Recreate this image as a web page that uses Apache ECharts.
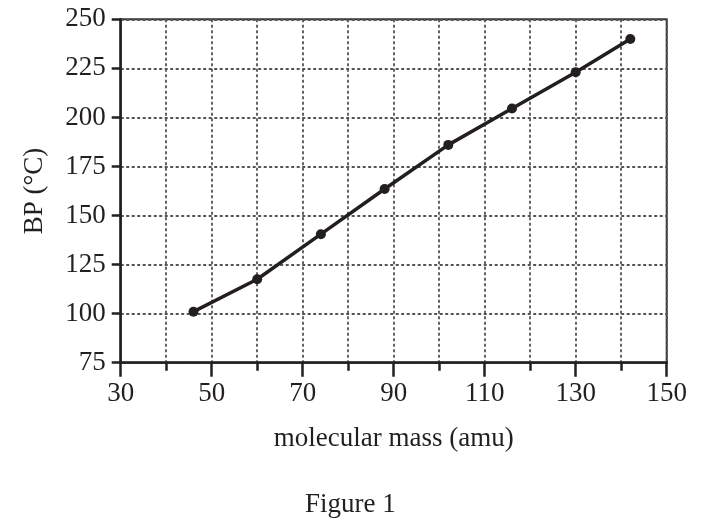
<!DOCTYPE html>
<html>
<head>
<meta charset="utf-8">
<script src="https://cdn.jsdelivr.net/npm/echarts@6/dist/echarts.min.js"></script>
<style>
html,body{margin:0;padding:0;background:#fff;}
#c{width:701px;height:528px;}
</style>
</head>
<body>
<div id="c"></div>
<script>
var molecularMass = [46, 60, 74, 88, 102, 116, 130, 142];
var boilingPoint = [101, 117.5, 140.5, 163.5, 186, 204.5, 223, 240];
var xTitle = 'molecular mass (amu)';
var yTitle = 'BP (°C)';
var figureCaption = 'Figure 1';

var ink = '#231f20';
var font = 'Liberation Serif';
var gridLine = { color: '#555', width: 1.8, type: [3, 2.5] };

var chart = echarts.init(document.getElementById('c'), null, { renderer: 'canvas' });
chart.setOption({
  animation: false,
  backgroundColor: '#fff',
  title: {
    text: figureCaption,
    left: 300, top: 486,
    textStyle: { fontFamily: font, fontSize: 27, fontWeight: 'normal', color: ink }
  },
  grid: {
    left: 120.7, right: 34.3, top: 19.3, bottom: 165.3,
    show: true, borderColor: '#333', borderWidth: 2, backgroundColor: 'transparent'
  },
  xAxis: {
    type: 'value', min: 30, max: 150, interval: 20,
    name: xTitle, nameLocation: 'middle', nameGap: 63,
    nameTextStyle: { fontFamily: font, fontSize: 27, color: ink },
    axisLine: { show: true, lineStyle: { color: ink, width: 2.5 } },
    axisTick: { show: true, length: 14, lineStyle: { color: ink, width: 2.5 } },
    minorTick: { show: true, splitNumber: 2, length: 8, lineStyle: { color: ink, width: 2.5 } },
    axisLabel: { margin: 18, fontFamily: font, fontSize: 27, color: ink },
    splitLine: { show: true, lineStyle: gridLine },
    minorSplitLine: { show: true, lineStyle: gridLine }
  },
  yAxis: {
    type: 'value', min: 75, max: 250, interval: 25,
    name: yTitle, nameLocation: 'middle', nameGap: 72, nameRotate: 90,
    nameTextStyle: { fontFamily: font, fontSize: 27, color: ink },
    axisLine: { show: true, lineStyle: { color: ink, width: 2.5 } },
    axisTick: { show: true, length: 9, lineStyle: { color: ink, width: 2.5 } },
    axisLabel: { margin: 15, fontFamily: font, fontSize: 27, color: ink },
    splitLine: { show: true, lineStyle: gridLine }
  },
  series: [{
    type: 'line',
    data: molecularMass.map(function (m, i) { return [m, boilingPoint[i]]; }),
    symbol: 'circle', symbolSize: 10,
    lineStyle: { color: ink, width: 3.5 },
    itemStyle: { color: ink },
    z: 5
  }]
});
</script>
</body>
</html>
